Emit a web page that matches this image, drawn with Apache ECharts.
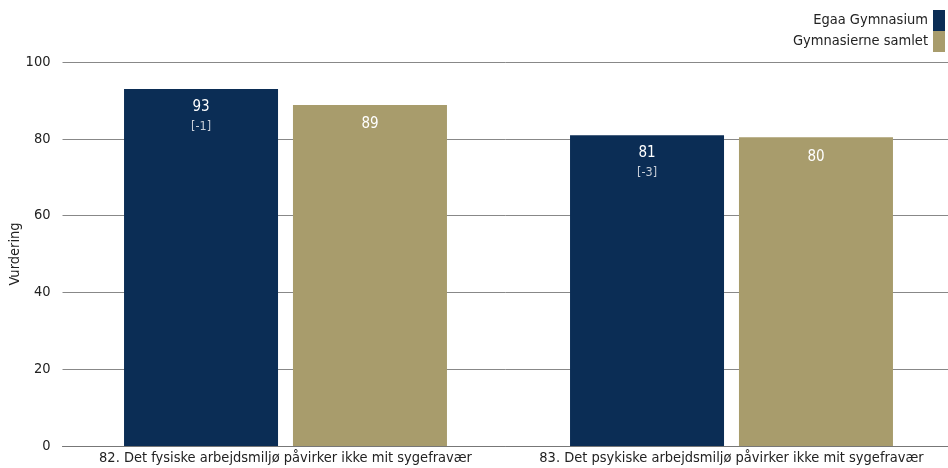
<!DOCTYPE html>
<html><head><meta charset="utf-8">
<script src="https://cdn.jsdelivr.net/npm/echarts@6/dist/echarts.min.js"></script>
<style>html,body{margin:0;padding:0;background:#fff}#c{width:948px;height:468px}</style>
</head><body><div id="c"></div>
<script>
const categories = ['82. Det fysiske arbejdsmiljø påvirker ikke mit sygefravær', '83. Det psykiske arbejdsmiljø påvirker ikke mit sygefravær'];
const seriesNames = ['Egaa Gymnasium', 'Gymnasierne samlet'];
const egaaValues = [93.0, 80.9];
const egaaDiffs = ['[-1]', '[-3]'];
const samletValues = [88.8, 80.4];
const yTicks = [0, 20, 40, 60, 80, 100];

const FONT = 'DejaVu Sans Condensed';
const chart = echarts.init(document.getElementById('c'));
chart.setOption({
  animation: false,
  textStyle: { fontFamily: FONT },
  legend: {
    orient: 'vertical', right: -2, top: 5, align: 'right',
    icon: 'rect', itemWidth: 12, itemHeight: 21, itemGap: 0,
    textStyle: { fontFamily: FONT, fontSize: 14.5, color: '#222' },
    data: seriesNames
  },
  grid: { left: 62.5, width: 892, top: 62, bottom: 22, containLabel: false, outerBoundsMode: 'none' },
  xAxis: {
    type: 'category', data: categories,
    axisLine: { lineStyle: { color: '#777' } },
    axisTick: { show: false },
    axisLabel: { fontFamily: FONT, fontSize: 14.5, color: '#222', margin: 5, interval: 0 }
  },
  yAxis: {
    type: 'value', min: 0, max: 100, interval: 20,
    name: 'Vurdering', nameLocation: 'middle', nameGap: 40, nameRotate: 90,
    nameMoveOverlap: false,
    nameTextStyle: { fontFamily: FONT, fontSize: 14.5, color: '#222' },
    axisLabel: { fontFamily: FONT, fontSize: 14.5, color: '#222', margin: 12,
      formatter: v => yTicks.includes(v) ? String(v) : '' },
    splitLine: { lineStyle: { color: '#888' } },
    axisLine: { show: false }, axisTick: { show: false }
  },
  series: [
    {
      name: seriesNames[0], type: 'bar', data: egaaValues,
      barWidth: 154, barGap: '9.7%', barCategoryGap: '27.6%',
      itemStyle: { color: '#0b2d55' },
      label: {
        show: true, position: 'insideTop', distance: 8,
        formatter: p => '{v|' + Math.round(p.value) + '}\n{d|' + egaaDiffs[p.dataIndex] + '}',
        rich: {
          v: { fontFamily: FONT, fontSize: 15, color: '#fff', lineHeight: 20, align: 'center' },
          d: { fontFamily: FONT, fontSize: 12.5, color: '#c8cfd9', lineHeight: 19, align: 'center' }
        }
      }
    },
    {
      name: seriesNames[1], type: 'bar', data: samletValues,
      barWidth: 154,
      itemStyle: { color: '#a89c6c' },
      label: {
        show: true, position: 'insideTop', distance: 12,
        formatter: p => String(Math.round(p.value)),
        fontFamily: FONT, fontSize: 15, color: '#fff'
      }
    }
  ]
});
</script></body></html>
